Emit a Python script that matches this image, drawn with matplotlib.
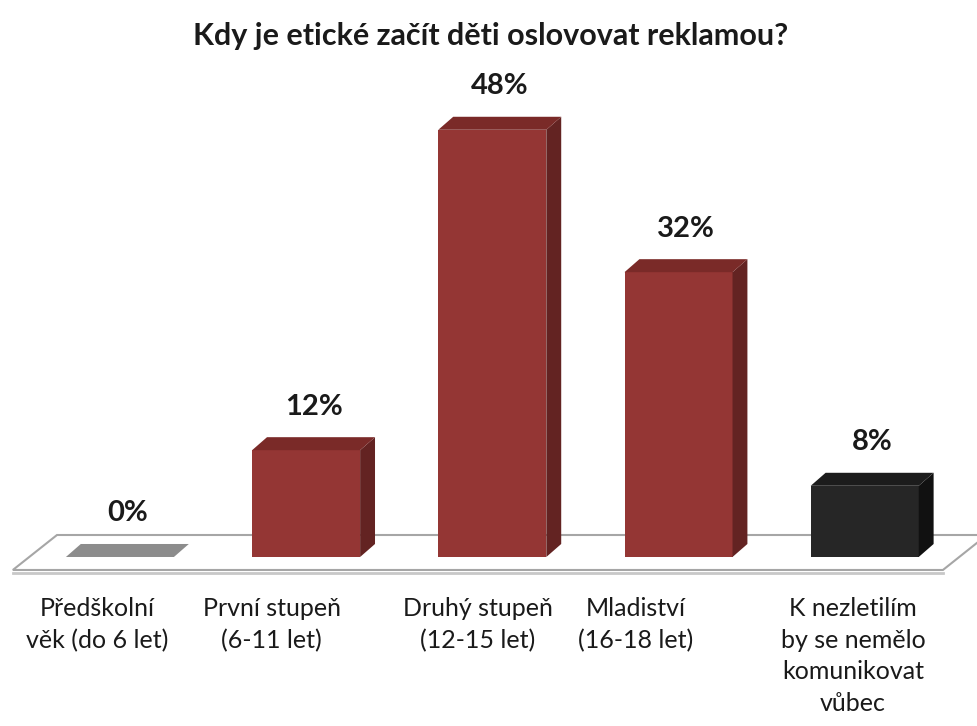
import matplotlib
matplotlib.use("Agg")
import matplotlib.pyplot as plt
from matplotlib.patches import Polygon

plt.rcParams['font.family'] = ['Lato', 'DejaVu Sans']

title = 'Kdy je etické začít děti oslovovat reklamou?'
categories = ['Předškolní\nvěk (do 6 let)', 'První stupeň\n(6-11 let)',
              'Druhý stupeň\n(12-15 let)', 'Mladiství\n(16-18 let)',
              'K nezletilím\nby se nemělo\nkomunikovat\nvůbec']
values = [0, 12, 48, 32, 8]
labels = ['0%', '12%', '48%', '32%', '8%']

# face colours: front, side, top
front_col = ['#8c8c8c', '#943634', '#943634', '#943634', '#262626']
side_col = ['#8c8c8c', '#632322', '#632322', '#632322', '#111111']
top_col = ['#8c8c8c', '#7a2a28', '#7a2a28', '#7a2a28', '#1c1c1c']

# layout
W = 0.58      # front width
DX = 0.08     # depth shift in x
DY = 1.46     # depth shift in y
label_x = [-0.12, 0.816, 1.923, 2.771, 3.937]

fig = plt.figure(figsize=(9.77, 7.26), dpi=100)
ax = fig.add_axes([0, 0, 1, 1])
ax.set_xlim(-0.644, 4.603)
ax.set_ylim(-18.99, 62.58)
ax.axis('off')

# floor plate
floor = Polygon([(-0.575, -1.46), (4.42, -1.46), (4.656, 2.47), (-0.338, 2.47)],
                closed=True, facecolor='white', edgecolor='#a6a6a6', lw=1.5, zorder=1)
ax.add_patch(floor)
ax.plot([-0.575, 4.42], [-1.75, -1.75], color='#c8c8c8', lw=2, zorder=1)

x = list(range(len(values)))
ax.bar(x, values, width=W, color=front_col, zorder=3)
for i, v in enumerate(values):
    l, r = i - W / 2, i + W / 2
    side = Polygon([(r, 0), (r + DX, DY), (r + DX, v + DY), (r, v)],
                   closed=True, facecolor=side_col[i], edgecolor='none', zorder=3)
    top = Polygon([(l, v), (l + DX, v + DY), (r + DX, v + DY), (r, v)],
                  closed=True, facecolor=top_col[i], edgecolor='none', zorder=3)
    ax.add_patch(side)
    ax.add_patch(top)
    ax.text(i + DX / 2, v + 4.9, labels[i], ha='center', va='center',
            fontsize=21, fontweight='bold', color='#1a1a1a')

for lx, c in zip(label_x, categories):
    ax.text(lx, -4.5, c, ha='center', va='top', fontsize=18,
            color='#1a1a1a', linespacing=1.45)

ax.text(0.502, 0.95, title, transform=ax.transAxes, ha='center', va='center',
        fontsize=22, fontweight='bold', color='#1a1a1a')

fig.savefig('out.png', dpi=100)
